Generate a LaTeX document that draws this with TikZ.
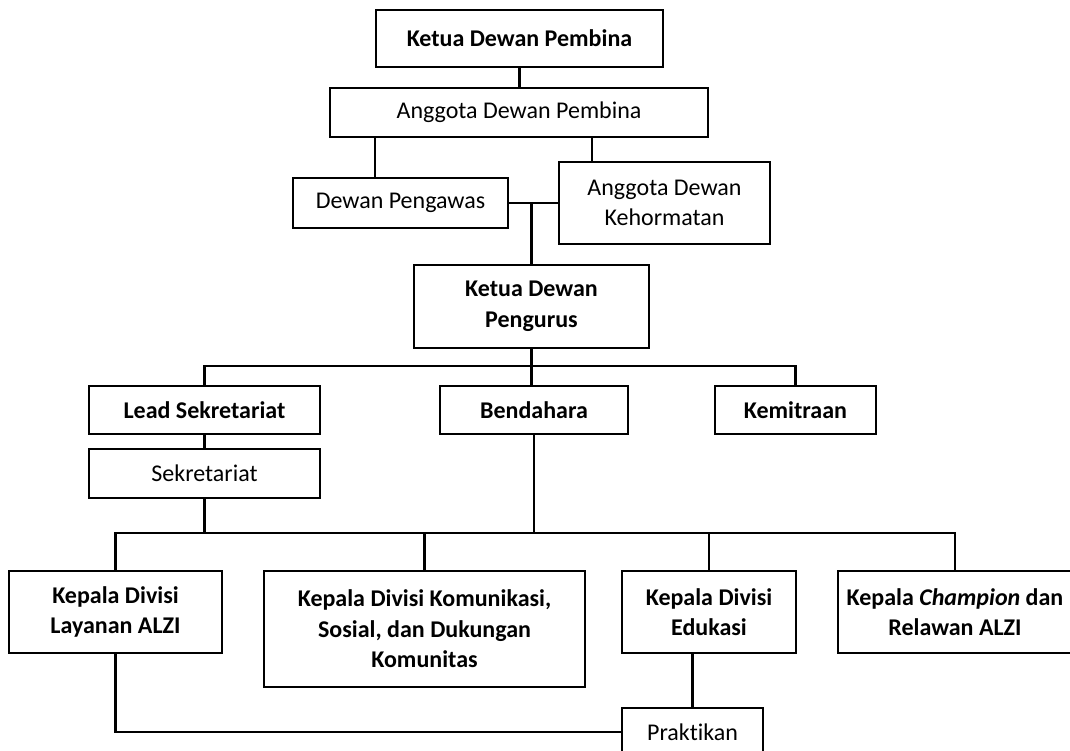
\documentclass[tikz,border=0pt]{standalone}
\usepackage{fontspec}
\setmainfont{Carlito}[Ligatures=NoCommon]

\begin{document}
\begin{tikzpicture}[x=1pt, y=-1pt, line width=2.8pt, line join=miter,
    unitbox/.style={draw, line width=2.6pt, inner sep=0pt, align=center,
      font=\fontsize{24}{30.5}\selectfont},
    headbox/.style={unitbox, font=\fontsize{24}{30.5}\selectfont\bfseries}]
  \useasboundingbox (0,0) rectangle (1070,751);
  \clip (0,0) rectangle (1070,751);
  % dewan pembina dan pengawas
  \node [headbox, minimum width=287, minimum height=57] (kpembina) at (519.5,38.5) {Ketua Dewan Pembina};
  \node [unitbox, minimum width=378, minimum height=49] (apembina) at (519,112.5) {Anggota Dewan Pembina};
  \node [unitbox, minimum width=215, minimum height=50] (pengawas) at (400.5,203) {Dewan Pengawas};
  \node [unitbox, minimum width=211, minimum height=82] (kehormatan) at (664.5,203) {Anggota Dewan\\Kehormatan};
  % pengurus
  \node [headbox, minimum width=235, minimum height=83] (kpengurus) at (531.5,306.5) {Ketua Dewan\\Pengurus};
  \node [headbox, minimum width=231, minimum height=48] (leadsek) at (204.5,410) {Lead Sekretariat};
  \node [headbox, minimum width=188, minimum height=48] (bendahara) at (534,410) {Bendahara};
  \node [headbox, minimum width=161, minimum height=48] (kemitraan) at (795.5,410) {Kemitraan};
  \node [unitbox, minimum width=231, minimum height=49] (sekretariat) at (204.5,473.5) {Sekretariat};
  % divisi
  \node [headbox, minimum width=213, minimum height=82] (layanan) at (115.5,612) {Kepala Divisi\\Layanan ALZI};
  \node [headbox, minimum width=321, minimum height=116] (komunikasi) at (424.5,629) {Kepala Divisi Komunikasi,\\Sosial, dan Dukungan\\Komunitas};
  \node [headbox, minimum width=174, minimum height=82] (edukasi) at (709,612) {Kepala Divisi\\Edukasi};
  \node [headbox, minimum width=234, minimum height=82] (champion) at (955,612) {Kepala \textit{Champion} dan\\Relawan ALZI};
  \node [unitbox, line width=1.5pt, minimum width=141, minimum height=48] (praktikan) at (692.5,732) {Praktikan};

  \coordinate (bus1) at (531.5,366);
  \coordinate (bus2) at (534,533);
  \draw (kpembina.south) -- (kpembina.south |- apembina.north);
  \draw ([xshift=-25.5]pengawas.north) -- ([xshift=-25.5]pengawas.north |- apembina.south);
  \draw ([xshift=-72.5]kehormatan.north) -- ([xshift=-72.5]kehormatan.north |- apembina.south);
  \draw (pengawas.east) -- (kehormatan.west);
  \draw (kpengurus.north) -- (kpengurus.north |- kehormatan.west);
  \draw (kpengurus.south) -- (kpengurus.south |- bendahara.north);
  \draw (leadsek.north) |- (bus1) -| (kemitraan.north);
  \draw (leadsek.south) -- (sekretariat.north);
  \draw (layanan.north) |- (bus2) -| (champion.north);
  \draw (sekretariat.south) -- (sekretariat.south |- bus2);
  \draw (bendahara.south) -- (bendahara.south |- bus2);
  \draw (komunikasi.north) -- (komunikasi.north |- bus2);
  \draw (edukasi.north) -- (edukasi.north |- bus2);
  \draw (layanan.south) |- (praktikan.west);
  \draw (praktikan.north) -- (praktikan.north |- edukasi.south);
\end{tikzpicture}
\end{document}
